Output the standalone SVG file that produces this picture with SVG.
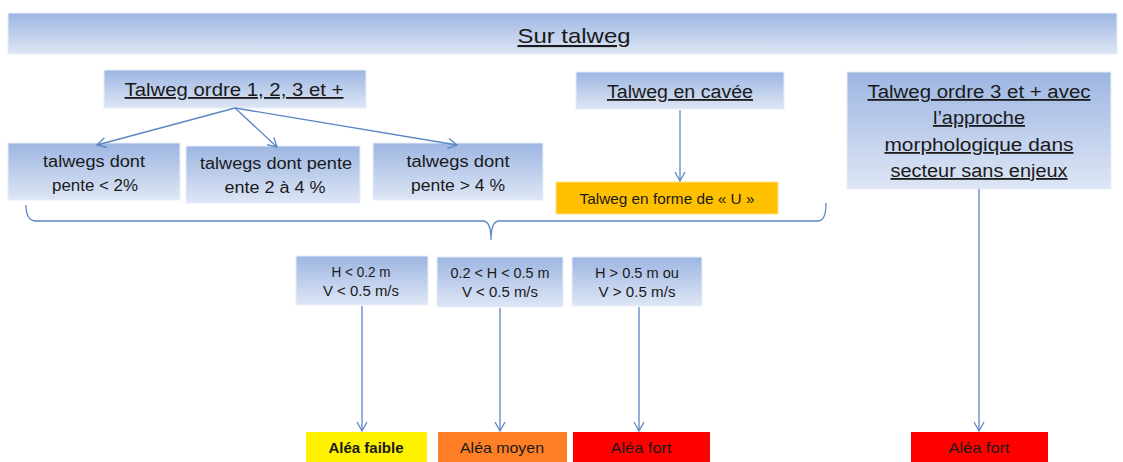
<svg xmlns="http://www.w3.org/2000/svg" width="1123" height="462" viewBox="0 0 1123 462">
<defs>
<linearGradient id="g" x1="0" y1="0" x2="0" y2="1">
<stop offset="0" stop-color="#9DB6E2"/>
<stop offset="1" stop-color="#DEE6F5"/>
</linearGradient>
<marker id="ah" markerWidth="14" markerHeight="14" refX="10" refY="6" orient="auto" markerUnits="userSpaceOnUse">
<path d="M1,1 L10,6 L1,11" fill="none" stroke="#5B87C5" stroke-width="1.3"/>
</marker>
<style>
.bx{fill:url(#g);stroke:#E8EEF8;stroke-width:1}
.t{font-family:"Liberation Sans",Arial,sans-serif;fill:#1a1a1a;text-anchor:middle}
.u{text-decoration:underline}
.c{fill:none;stroke:#5B87C5;stroke-width:1.3}
</style>
</defs>
<rect width="1123" height="462" fill="#ffffff"/>
<g id="title">
<rect class="bx" x="8" y="13" width="1109" height="41"/>
<text class="t u" x="574" y="43" font-size="21" textLength="113" lengthAdjust="spacingAndGlyphs">Sur talweg</text>
</g>
<g id="ordre123">
<rect class="bx" x="104" y="70" width="262" height="38"/>
<text class="t u" x="234" y="96" font-size="18" textLength="219" lengthAdjust="spacingAndGlyphs">Talweg ordre 1, 2, 3 et +</text>
</g>
<g id="cavee">
<rect class="bx" x="576" y="72" width="208" height="37"/>
<text class="t u" x="680" y="98" font-size="18" textLength="146" lengthAdjust="spacingAndGlyphs">Talweg en cavée</text>
</g>
<g id="ordre3">
<rect class="bx" x="847" y="72" width="264" height="117"/>
<text class="t u" x="979" y="98" font-size="18" textLength="223" lengthAdjust="spacingAndGlyphs">Talweg ordre 3 et + avec</text>
<text class="t u" x="979" y="124" font-size="18" textLength="92" lengthAdjust="spacingAndGlyphs">l’approche</text>
<text class="t u" x="979" y="151" font-size="18" textLength="189" lengthAdjust="spacingAndGlyphs">morphologique dans</text>
<text class="t u" x="979" y="177" font-size="18" textLength="177" lengthAdjust="spacingAndGlyphs">secteur sans enjeux</text>
</g>
<g id="pente2">
<rect class="bx" x="8" y="143" width="172" height="57"/>
<text class="t" x="94" y="167" font-size="16" textLength="102" lengthAdjust="spacingAndGlyphs">talwegs dont</text>
<text class="t" x="95" y="191" font-size="16" textLength="86" lengthAdjust="spacingAndGlyphs">pente &lt; 2%</text>
</g>
<g id="pente24">
<rect class="bx" x="186" y="146" width="174" height="57"/>
<text class="t" x="276" y="169" font-size="16" textLength="152" lengthAdjust="spacingAndGlyphs">talwegs dont pente</text>
<text class="t" x="275" y="193" font-size="16" textLength="101" lengthAdjust="spacingAndGlyphs">ente 2 à 4 %</text>
</g>
<g id="pente4">
<rect class="bx" x="373" y="143" width="170" height="57"/>
<text class="t" x="458" y="167" font-size="16" textLength="103" lengthAdjust="spacingAndGlyphs">talwegs dont</text>
<text class="t" x="458" y="191" font-size="16" textLength="94" lengthAdjust="spacingAndGlyphs">pente &gt; 4 %</text>
</g>
<g id="formeU">
<rect x="556" y="182" width="222" height="32" fill="#FFC000" stroke="#FFE08A" stroke-width="1"/>
<text class="t" x="667" y="204" font-size="15" textLength="175" lengthAdjust="spacingAndGlyphs">Talweg en forme de « U »</text>
</g>
<g id="h1">
<rect class="bx" x="296" y="256" width="132" height="49"/>
<text class="t" x="361" y="277" font-size="14" textLength="59" lengthAdjust="spacingAndGlyphs">H &lt; 0.2 m</text>
<text class="t" x="361" y="296" font-size="14" textLength="76" lengthAdjust="spacingAndGlyphs">V &lt; 0.5 m/s</text>
</g>
<g id="h2">
<rect class="bx" x="437" y="257" width="126" height="50"/>
<text class="t" x="500" y="278" font-size="14" textLength="99" lengthAdjust="spacingAndGlyphs">0.2 &lt; H &lt; 0.5 m</text>
<text class="t" x="500" y="297" font-size="14" textLength="76" lengthAdjust="spacingAndGlyphs">V &lt; 0.5 m/s</text>
</g>
<g id="h3">
<rect class="bx" x="572" y="257" width="130" height="49"/>
<text class="t" x="637" y="278" font-size="14" textLength="84" lengthAdjust="spacingAndGlyphs">H &gt; 0.5 m ou</text>
<text class="t" x="637" y="297" font-size="14" textLength="77" lengthAdjust="spacingAndGlyphs">V &gt; 0.5 m/s</text>
</g>
<g id="faible">
<rect x="306" y="432" width="121" height="31" fill="#FFF200"/>
<text class="t" x="366" y="453" font-size="15" font-weight="bold" fill="#2a3a1a" textLength="75" lengthAdjust="spacingAndGlyphs">Aléa faible</text>
</g>
<g id="moyen">
<rect x="438" y="432" width="129" height="31" fill="#FF7F27"/>
<text class="t" x="502" y="453" font-size="15" textLength="84" lengthAdjust="spacingAndGlyphs">Aléa moyen</text>
</g>
<g id="fort1">
<rect x="573" y="432" width="137" height="31" fill="#FF0000"/>
<text class="t" x="641" y="453" font-size="15" textLength="61" lengthAdjust="spacingAndGlyphs">Aléa fort</text>
</g>
<g id="fort2">
<rect x="911" y="432" width="137" height="31" fill="#FF0000"/>
<text class="t" x="979" y="453" font-size="15" textLength="61" lengthAdjust="spacingAndGlyphs">Aléa fort</text>
</g>
<g id="connectors">
<line class="c" x1="235" y1="108" x2="97" y2="145" marker-end="url(#ah)"/>
<line class="c" x1="235" y1="108" x2="277" y2="147" marker-end="url(#ah)"/>
<line class="c" x1="235" y1="108" x2="457" y2="145" marker-end="url(#ah)"/>
<line class="c" x1="680" y1="110" x2="680" y2="181" marker-end="url(#ah)"/>
<line class="c" x1="979" y1="189" x2="979" y2="431" marker-end="url(#ah)"/>
<line class="c" x1="362" y1="306" x2="362" y2="431" marker-end="url(#ah)"/>
<line class="c" x1="500" y1="308" x2="500" y2="431" marker-end="url(#ah)"/>
<line class="c" x1="639" y1="307" x2="639" y2="431" marker-end="url(#ah)"/>
<path class="c" d="M26,205 Q26,221 36,221 L483,221 Q491,221 491,240 Q491,221 499,221 L818,221 Q826,221 826,203"/>
</g>
</svg>
